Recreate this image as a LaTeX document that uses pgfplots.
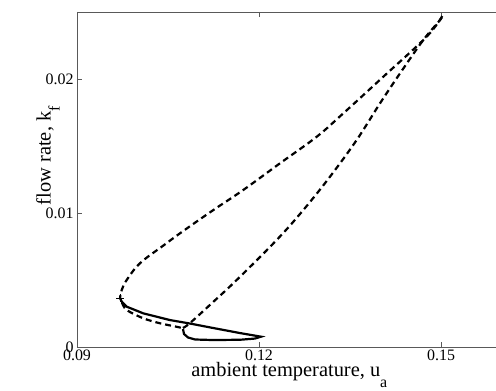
\documentclass[border=0pt]{standalone}
\usepackage{fontspec}
\setmainfont{Liberation Serif}
\usepackage{pgfplots}
\pgfplotsset{compat=1.18}
\newcommand{\tl}[1]{{\fontsize{16}{16}\selectfont #1}}
\begin{document}
\begin{tikzpicture}
\begin{axis}[
  at={(0,0)}, anchor=south west,
  scale only axis, width=424.7bp, height=335bp,
  xmin=0.09, xmax=0.16, ymin=0, ymax=0.025,
  xtick={0.09,0.12,0.15}, xticklabels={\tl{0.09},\tl{0.12},\tl{0.15}},
  ytick={0,0.01,0.02}, yticklabels={\tl{0},\tl{0.01},\tl{0.02}},
  scaled ticks=false,
  tick align=inside,
  xtick pos=both, ytick pos=both,
  xticklabel pos=left, yticklabel pos=left,
  major tick length=5bp,
  axis line style={draw=black!65, line width=0.8bp},
  every tick/.style={draw=black!65, line width=0.8bp},
  /pgf/number format/assume math mode=true,
  xticklabel style={yshift=1bp},
  xlabel={ambient temperature, u\raisebox{-11bp}{\fontsize{16}{16}\selectfont a}},
  ylabel={flow rate, k\raisebox{-9bp}{\fontsize{16}{16}\selectfont f}},
  xlabel style={font=\fontsize{20.5}{20.5}\selectfont, at={(axis description cs:0.5,0)}, anchor=base, yshift=-29bp},
  ylabel style={font=\fontsize{20.5}{20.5}\selectfont, at={(axis description cs:-0.062,0.413)}, anchor=base west, rotate=0},
  clip=false,
]
\addplot[black, line width=2.2bp, dash pattern=on 6bp off 4bp, smooth, tension=0.6] coordinates {
(0.1502,0.0247)
(0.14764,0.02316)
(0.14049,0.02017)
(0.13390,0.01744)
(0.12951,0.01569)
(0.12346,0.01371)
(0.11741,0.01172)
(0.11247,0.01022)
(0.10752,0.00866)
(0.10423,0.00757)
(0.10038,0.00625)
(0.09819,0.00500)
(0.09737,0.00425)
(0.09709,0.00363)
};
\addplot[black, line width=2.2bp, dash pattern=on 6bp off 4bp, smooth, tension=0.6] coordinates {
(0.10747,0.00142)
(0.10863,0.00179)
(0.1122,0.00326)
(0.11632,0.0050)
(0.12292,0.00799)
(0.1273,0.01022)
(0.1317,0.01271)
(0.1361,0.01545)
(0.13995,0.01819)
(0.14324,0.02042)
(0.14708,0.02291)
(0.14984,0.0244)
(0.1502,0.0247)
};
\addplot[black, line width=2.2bp, dash pattern=on 6bp off 4bp, smooth, tension=0.5] coordinates {
(0.09742,0.00330)
(0.09819,0.00276)
(0.10093,0.00214)
(0.10368,0.00177)
(0.10643,0.00151)
(0.10747,0.00140)
};
\addplot[black, line width=2.2bp] coordinates {
(0.09709,0.00363)
(0.09742,0.00336)
(0.09819,0.00301)
(0.10093,0.00251)
(0.10533,0.00201)
(0.10863,0.00175)
(0.11242,0.00142)
(0.11687,0.00104)
(0.12033,0.00077)
(0.11934,0.00063)
(0.11687,0.00054)
(0.11242,0.00052)
(0.10945,0.00056)
(0.1083,0.00071)
(0.10764,0.00097)
(0.10747,0.00134)
};
\addplot[only marks, mark=+, mark size=4bp, black, line width=1bp] coordinates {(0.09709,0.00363)};
\end{axis}
\pgfresetboundingbox
\path (-77bp,-44bp) rectangle (419bp,347bp);
\end{tikzpicture}
\end{document}
